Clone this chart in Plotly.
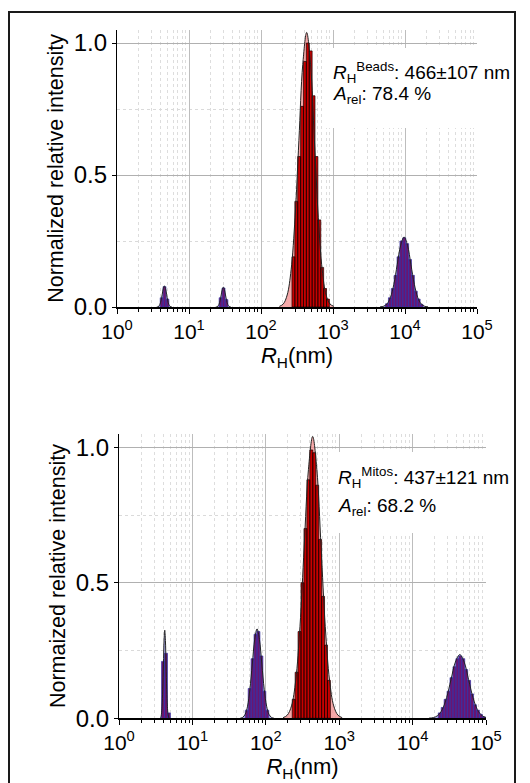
import math
import plotly.graph_objects as go

# ---------------- DATA ----------------
# Panel 1 (Beads): histogram bins (centre, nm) and heights, plus fitted curves
B_A_BIN_NM = [4.17, 4.57, 5.01]
B_A_BIN_H = [0.035, 0.077, 0.030]
B_A_FIT_NM = [3.57, 3.70, 3.83, 3.96, 4.10, 4.25, 4.40, 4.55, 4.71, 4.88, 5.05, 5.22, 5.41, 5.60, 5.79]
B_A_FIT_Y = [0.0002, 0.0009, 0.0035, 0.0108, 0.026, 0.0485, 0.0706, 0.080, 0.0706, 0.0485, 0.026, 0.0108, 0.0035, 0.0009, 0.0002]

B_B_BIN_NM = [27.5, 30.2, 33.1]
B_B_BIN_H = [0.035, 0.072, 0.028]
B_B_FIT_NM = [23.55, 24.38, 25.23, 26.12, 27.04, 27.99, 28.97, 29.99, 31.05, 32.14, 33.27, 34.44, 35.65, 36.90, 38.19]
B_B_FIT_Y = [0.0002, 0.0008, 0.0033, 0.0101, 0.0244, 0.0455, 0.0662, 0.075, 0.0662, 0.0455, 0.0244, 0.0101, 0.0033, 0.0008, 0.0002]

B_C_BIN_NM = [282, 309, 339, 372, 407, 447, 490, 537, 589, 646, 708, 776, 851]
B_C_BIN_H = [0.19, 0.40, 0.57, 0.76, 0.93, 1.00, 0.97, 0.80, 0.57, 0.33, 0.15, 0.07, 0.03]
B_C_FIT_NM = [180, 204, 231, 262, 297, 336, 380, 431, 488, 552, 625, 708, 802, 908, 1028]
B_C_FIT_Y = [0.0023, 0.0115, 0.0455, 0.141, 0.338, 0.631, 0.918, 1.04, 0.918, 0.631, 0.338, 0.141, 0.0455, 0.0115, 0.0023]

B_D_BIN_NM = [5620, 6170, 6760, 7410, 8130, 8910, 9770, 10720, 11750, 12880, 14130, 15490, 16980]
B_D_BIN_H = [0.012, 0.035, 0.07, 0.12, 0.19, 0.25, 0.262, 0.24, 0.18, 0.12, 0.06, 0.03, 0.01]
B_D_FIT_NM = [4510, 5040, 5620, 6270, 7000, 7800, 8710, 9700, 10840, 12080, 13490, 15030, 16790, 18710, 20890]
B_D_FIT_Y = [0.0006, 0.0029, 0.0116, 0.0359, 0.0859, 0.161, 0.234, 0.265, 0.234, 0.161, 0.0859, 0.0359, 0.0116, 0.0029, 0.0006]

# Panel 2 (Mitos)
M_A_BIN_NM = [3.98, 4.37, 4.79]
M_A_BIN_H = [0.21, 0.24, 0.02]
M_A_FIT_NM = [3.63, 3.71, 3.78, 3.86, 3.94, 4.03, 4.11, 4.20, 4.29, 4.38, 4.47, 4.56, 4.66, 4.75, 4.85]
M_A_FIT_Y = [0.0007, 0.0036, 0.0143, 0.044, 0.1055, 0.197, 0.287, 0.325, 0.287, 0.197, 0.1055, 0.044, 0.0143, 0.0036, 0.0007]

M_B_BIN_NM = [55.0, 60.3, 66.1, 72.4, 79.4, 87.1, 95.5, 104.7]
M_B_BIN_H = [0.03, 0.11, 0.22, 0.31, 0.32, 0.23, 0.10, 0.03]
M_B_FIT_NM = [45.0, 48.5, 52.3, 56.4, 60.7, 65.5, 70.6, 76.0, 81.9, 88.3, 95.2, 102.6, 110.5, 119.1, 128.4]
M_B_FIT_Y = [0.0007, 0.0037, 0.0145, 0.0447, 0.107, 0.200, 0.291, 0.33, 0.291, 0.200, 0.107, 0.0447, 0.0145, 0.0037, 0.0007]

M_C_BIN_NM = [240, 263, 288, 316, 347, 380, 417, 457, 501, 550, 603, 661, 724]
M_C_BIN_H = [0.07, 0.17, 0.32, 0.50, 0.70, 0.88, 0.99, 0.98, 0.86, 0.66, 0.45, 0.27, 0.14]
M_C_FIT_NM = [172, 196, 224, 256, 292, 333, 381, 435, 496, 566, 646, 738, 842, 962, 1098]
M_C_FIT_Y = [0.0023, 0.0115, 0.0457, 0.141, 0.338, 0.631, 0.918, 1.04, 0.918, 0.631, 0.338, 0.141, 0.0457, 0.0115, 0.0023]

M_D_BIN_NM = [23440, 25700, 28180, 30900, 33880, 37150, 40740, 44670, 48980, 53700, 58880, 64570, 70790, 77620, 85110, 93330]
M_D_BIN_H = [0.02, 0.04, 0.07, 0.10, 0.15, 0.19, 0.22, 0.23, 0.22, 0.18, 0.14, 0.09, 0.05, 0.03, 0.015, 0.005]
M_D_FIT_NM = [16710, 19190, 22030, 25290, 29040, 33340, 38280, 43950, 50470, 57940, 66530, 76380, 87700, 100700, 115600]
M_D_FIT_Y = [0.0005, 0.0026, 0.0103, 0.0318, 0.0763, 0.1425, 0.2074, 0.235, 0.2074, 0.1425, 0.0763, 0.0318, 0.0103, 0.0026, 0.0005]

X_TICK_VALS = [1, 10, 100, 1000, 10000, 100000]
X_TICK_TEXT = ["10<sup>0</sup>", "10<sup>1</sup>", "10<sup>2</sup>", "10<sup>3</sup>", "10<sup>4</sup>", "10<sup>5</sup>"]
Y_TICK_VALS = [0.0, 0.5, 1.0]
Y_TICK_TEXT = ["0.0", "0.5", "1.0"]
Y_MINOR_VALS = [0.25, 0.75]

PANEL1_LABEL = ["<i>R</i><sub>H</sub><sup>Beads</sup>: 466±107 nm", "<i>A</i><sub>rel</sub>: 78.4 %"]
PANEL2_LABEL = ["<i>R</i><sub>H</sub><sup>Mitos</sup>: 437±121 nm", "<i>A</i><sub>rel</sub>: 68.2 %"]
Y_TITLES = ["Normalized relative intensity", "Normaized relative intensity"]
X_TITLE = "<i>R</i><sub>H</sub>(nm)"

# ---------------- STYLE ----------------
OFF = 8                      # browser body margin
W, H = 530 - OFF, 783 - OFF
FONT = "Liberation Sans, Arial, sans-serif"
MAIN_BAR = "#c80000"
MAIN_EDGE = "#1a0000"
MINOR_BAR = "#6a1570"
MINOR_EDGE = "#3535a8"
MAIN_FILL = "rgba(242,140,140,0.75)"
MINOR_FILL = "rgba(150,150,235,0.75)"


def px(x):
    return (x - OFF) / W


def py(y):
    return 1 - (y - OFF) / H


def bar_polygon(centres, heights):
    lc = [math.log10(c) for c in centres]
    mids = [(lc[i] + lc[i + 1]) / 2 for i in range(len(lc) - 1)]
    edges = [2 * lc[0] - mids[0]] + mids + [2 * lc[-1] - mids[-1]]
    xs, ys = [], []
    for i, h in enumerate(heights):
        a, b = 10 ** edges[i], 10 ** edges[i + 1]
        xs += [a, a, b, b, a, None]
        ys += [0, h, h, 0, 0, None]
    return xs, ys


panels = [
    dict(xa="x", ya="y", peaks=[
        (B_A_BIN_NM, B_A_BIN_H, B_A_FIT_NM, B_A_FIT_Y, False),
        (B_B_BIN_NM, B_B_BIN_H, B_B_FIT_NM, B_B_FIT_Y, False),
        (B_C_BIN_NM, B_C_BIN_H, B_C_FIT_NM, B_C_FIT_Y, True),
        (B_D_BIN_NM, B_D_BIN_H, B_D_FIT_NM, B_D_FIT_Y, False)]),
    dict(xa="x2", ya="y2", peaks=[
        (M_A_BIN_NM, M_A_BIN_H, M_A_FIT_NM, M_A_FIT_Y, False),
        (M_B_BIN_NM, M_B_BIN_H, M_B_FIT_NM, M_B_FIT_Y, False),
        (M_C_BIN_NM, M_C_BIN_H, M_C_FIT_NM, M_C_FIT_Y, True),
        (M_D_BIN_NM, M_D_BIN_H, M_D_FIT_NM, M_D_FIT_Y, False)]),
]

fig = go.Figure()
for p in panels:
    for bins, hs, fx, fy, main in p["peaks"]:
        fig.add_trace(go.Scatter(x=fx, y=fy, mode="lines", line=dict(width=0, shape="spline"),
                                 fill="tozeroy", fillcolor=MAIN_FILL if main else MINOR_FILL,
                                 xaxis=p["xa"], yaxis=p["ya"], showlegend=False, hoverinfo="skip"))
        bx, by = bar_polygon(bins, hs)
        fig.add_trace(go.Scatter(x=bx, y=by, mode="lines", fill="toself",
                                 fillcolor=MAIN_BAR if main else MINOR_BAR,
                                 line=dict(color=MAIN_EDGE if main else MINOR_EDGE, width=0.7),
                                 xaxis=p["xa"], yaxis=p["ya"], showlegend=False, hoverinfo="skip"))
        fig.add_trace(go.Scatter(x=fx, y=fy, mode="lines", line=dict(color="#222222", width=1, shape="spline"),
                                 xaxis=p["xa"], yaxis=p["ya"], showlegend=False, hoverinfo="skip"))


def xaxis_cfg(domain, anchor):
    minor_vals = [m * 10 ** k for k in range(5) for m in range(2, 10)]
    return dict(type="log", domain=domain, anchor=anchor, range=[0, 5],
                tickmode="array", tickvals=X_TICK_VALS, ticktext=X_TICK_TEXT,
                tickfont=dict(size=21, color="black", family=FONT),
                ticks="outside", ticklen=5, tickcolor="black", tickwidth=1,
                showline=True, linecolor="black", linewidth=1.5,
                showgrid=True, gridcolor="#bdbdbd", gridwidth=1,
                minor=dict(tickmode="array", tickvals=minor_vals, ticks="outside", ticklen=3,
                           tickcolor="black", showgrid=True, gridcolor="#dddddd", griddash="dot", gridwidth=1),
                title=dict(text=X_TITLE, font=dict(size=22, color="black", family=FONT), standoff=0),
                automargin=False, zeroline=False, mirror=False)


def yaxis_cfg(domain, anchor, title):
    return dict(domain=domain, anchor=anchor, range=[0, 1.05],
                tickmode="array", tickvals=Y_TICK_VALS, ticktext=Y_TICK_TEXT,
                tickfont=dict(size=24, color="black", family=FONT),
                ticks="outside", ticklen=4, tickcolor="black",
                showline=True, linecolor="black", linewidth=1.2,
                showgrid=True, gridcolor="#b0b0b0", gridwidth=1,
                minor=dict(tickmode="array", tickvals=Y_MINOR_VALS, showgrid=True, gridcolor="#dadada",
                           griddash="dot", ticks=""),
                title=dict(text=title, font=dict(size=21.5, color="black", family=FONT), standoff=4),
                automargin=False, zeroline=False)


fig.update_layout(
    width=W, height=H, margin=dict(l=0, r=0, t=0, b=0),
    paper_bgcolor="white", plot_bgcolor="white",
    font=dict(family=FONT, color="black"),
    xaxis=xaxis_cfg([px(117), px(477)], "y"),
    yaxis=yaxis_cfg([py(307), py(29.8)], "x", Y_TITLES[0]),
    xaxis2=xaxis_cfg([px(119), px(486)], "y2"),
    yaxis2=yaxis_cfg([py(718.3), py(433.7)], "x2", Y_TITLES[1]),
)

shapes = [
    # white boxes behind the fit-result labels
    dict(type="rect", xref="paper", yref="paper", x0=px(322), x1=px(516), y0=py(128), y1=py(48),
         fillcolor="white", line=dict(width=0), layer="above"),
    dict(type="rect", xref="paper", yref="paper", x0=px(330), x1=px(516), y0=py(533), y1=py(452),
         fillcolor="white", line=dict(width=0), layer="above"),
    # outer frame
    dict(type="rect", xref="paper", yref="paper", x0=px(9), x1=px(515), y0=-0.02, y1=py(12),
         fillcolor="rgba(0,0,0,0)", line=dict(color="#1a1a1a", width=2), layer="above"),
]
fig.update_layout(shapes=shapes)

annotations = []
for lines, x0, ys in [(PANEL1_LABEL, 331, [72.7, 95]), (PANEL2_LABEL, 336, [477.7, 507.3])]:
    for txt, yy in zip(lines, ys):
        annotations.append(dict(text=txt, xref="paper", yref="paper", x=px(x0), y=py(yy),
                                xanchor="left", yanchor="middle", showarrow=False,
                                font=dict(size=19, color="black", family=FONT)))
fig.update_layout(annotations=annotations)

fig.write_html("out.html")
